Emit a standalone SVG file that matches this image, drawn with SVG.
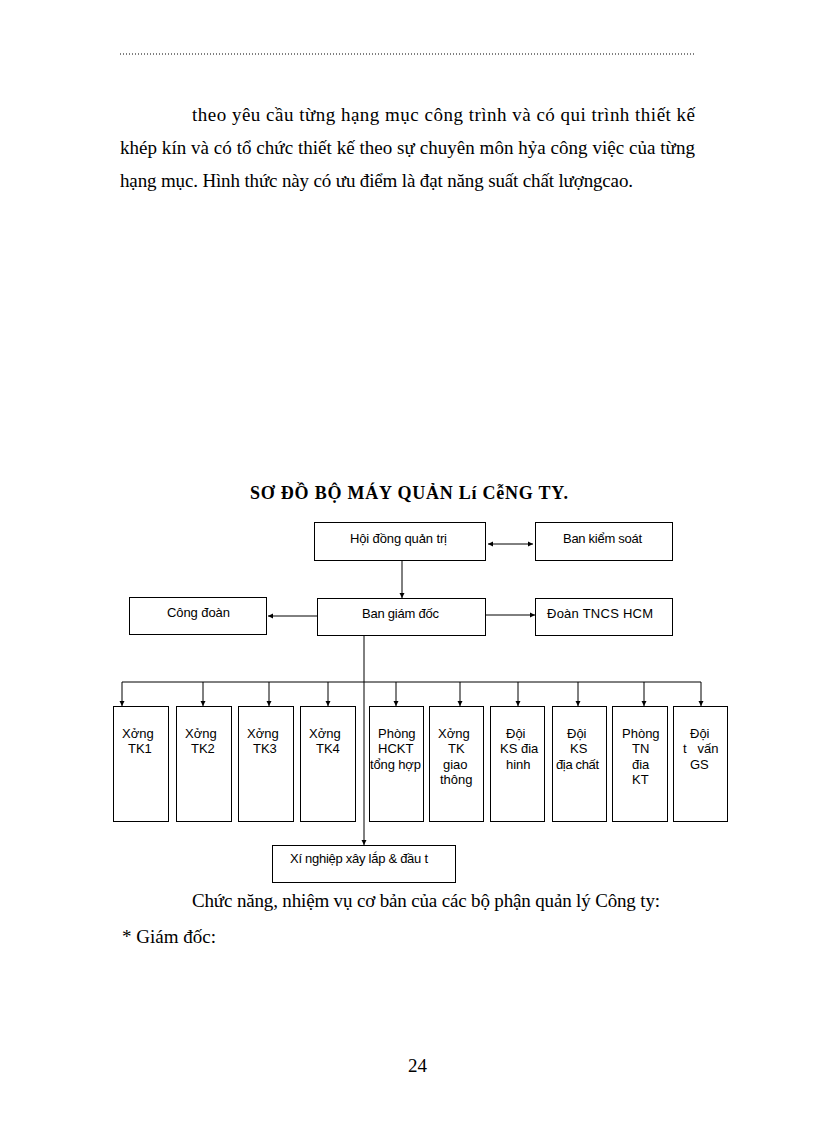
<svg xmlns="http://www.w3.org/2000/svg" width="816" height="1123" viewBox="0 0 816 1123">
<style>
.body{font-family:"Liberation Serif","Times New Roman",serif;font-size:19px;fill:#000}
.title{font-family:"Liberation Serif","Times New Roman",serif;font-size:18px;font-weight:bold;fill:#000}
.lbl{font-family:"Liberation Sans",Arial,sans-serif;font-size:13px;fill:#000}
.box{fill:#fff;stroke:#000;stroke-width:1}
.con{stroke:#000;stroke-width:1;fill:none}
</style>
<defs>
<marker id="ah" markerWidth="6" markerHeight="6" refX="5" refY="3" orient="auto" markerUnits="userSpaceOnUse">
<path d="M0,0.5 L5,3 L0,5.5 Z" fill="#000"/>
</marker>
<marker id="as" markerWidth="6" markerHeight="6" refX="1" refY="3" orient="auto" markerUnits="userSpaceOnUse">
<path d="M6,0.5 L1,3 L6,5.5 Z" fill="#000"/>
</marker>
</defs>
<rect x="0" y="0" width="816" height="1123" fill="#fff"/>
<line x1="120" y1="54" x2="695" y2="54" stroke="#000" stroke-width="1" stroke-dasharray="1 2"/>
<text class="body" x="192" y="121" textLength="503">theo yêu cầu từng hạng mục công trình và có qui trình thiết kế</text>
<text class="body" x="120" y="154" textLength="575">khép kín và có tổ chức thiết kế theo sự chuyên môn hỷa công việc của từng</text>
<text class="body" x="120" y="187" textLength="513">hạng mục. Hình thức này có ưu điểm là đạt năng suất chất lượngcao.</text>
<text class="title" x="250" y="499" textLength="318">SƠ ĐỒ BỘ MÁY QUẢN Lí CễNG TY.</text>
<g id="connectors">
<line class="con" x1="488" y1="544" x2="533" y2="544" marker-start="url(#as)" marker-end="url(#ah)"/>
<line class="con" x1="402" y1="561" x2="402" y2="598" marker-end="url(#ah)"/>
<line class="con" x1="317" y1="616" x2="268" y2="616" marker-end="url(#ah)"/>
<line class="con" x1="485" y1="615" x2="535" y2="615" marker-end="url(#ah)"/>
<line class="con" x1="364" y1="636" x2="364" y2="845" marker-end="url(#ah)"/>
<line class="con" x1="122" y1="682" x2="701" y2="682"/>
<line class="con" x1="122" y1="682" x2="122" y2="706" marker-end="url(#ah)"/>
<line class="con" x1="203" y1="682" x2="203" y2="706" marker-end="url(#ah)"/>
<line class="con" x1="269" y1="682" x2="269" y2="706" marker-end="url(#ah)"/>
<line class="con" x1="328" y1="682" x2="328" y2="706" marker-end="url(#ah)"/>
<line class="con" x1="396" y1="682" x2="396" y2="706" marker-end="url(#ah)"/>
<line class="con" x1="460" y1="682" x2="460" y2="706" marker-end="url(#ah)"/>
<line class="con" x1="518" y1="682" x2="518" y2="706" marker-end="url(#ah)"/>
<line class="con" x1="578" y1="682" x2="578" y2="706" marker-end="url(#ah)"/>
<line class="con" x1="644" y1="682" x2="644" y2="706" marker-end="url(#ah)"/>
<line class="con" x1="701" y1="682" x2="701" y2="706" marker-end="url(#ah)"/>
</g>
<g id="hdqt"><rect class="box" x="314.5" y="522.5" width="171" height="38"/><text class="lbl" x="350" y="543" textLength="97">Hội đồng quản trị</text></g>
<g id="bks"><rect class="box" x="535.5" y="522.5" width="137" height="38"/><text class="lbl" x="563" y="543" textLength="79">Ban kiểm soát</text></g>
<g id="bgd"><rect class="box" x="317.5" y="598.5" width="168" height="37"/><text class="lbl" x="362" y="618" textLength="77">Ban giám đốc</text></g>
<g id="doan"><rect class="box" x="535.5" y="598.5" width="137" height="37"/><text class="lbl" x="547" y="618" textLength="106">Đoàn TNCS HCM</text></g>
<g id="congdoan"><rect class="box" x="129.5" y="597.5" width="137" height="37"/><text class="lbl" x="167" y="617" textLength="63">Công đoàn</text></g>
<g id="x1"><rect class="box" x="113.5" y="706.5" width="55" height="115"/><text class="lbl" x="122" y="738">Xởng</text><text class="lbl" x="128" y="753">TK1</text></g>
<g id="x2"><rect class="box" x="176.5" y="706.5" width="55" height="115"/><text class="lbl" x="185" y="738">Xởng</text><text class="lbl" x="191" y="753">TK2</text></g>
<g id="x3"><rect class="box" x="238.5" y="706.5" width="55" height="115"/><text class="lbl" x="247" y="738">Xởng</text><text class="lbl" x="253" y="753">TK3</text></g>
<g id="x4"><rect class="box" x="300.5" y="706.5" width="55" height="115"/><text class="lbl" x="309" y="738">Xởng</text><text class="lbl" x="316" y="753">TK4</text></g>
<g id="hckt"><rect class="box" x="369.5" y="706.5" width="54" height="115"/><text class="lbl" x="378" y="738">Phòng</text><text class="lbl" x="378" y="753">HCKT</text><text class="lbl" x="370" y="769" textLength="51">tổng hợp</text></g>
<g id="xgt"><rect class="box" x="429.5" y="706.5" width="54" height="115"/><text class="lbl" x="438" y="738">Xởng</text><text class="lbl" x="448" y="753">TK</text><text class="lbl" x="443" y="769">giao</text><text class="lbl" x="440" y="784">thông</text></g>
<g id="ksdh"><rect class="box" x="490.5" y="706.5" width="54" height="115"/><text class="lbl" x="506" y="738">Đội</text><text class="lbl" x="500" y="753">KS đia</text><text class="lbl" x="506" y="769">hinh</text></g>
<g id="ksdc"><rect class="box" x="552.5" y="706.5" width="54" height="115"/><text class="lbl" x="567" y="738">Đội</text><text class="lbl" x="570" y="753">KS</text><text class="lbl" x="556" y="769" textLength="43">địa chất</text></g>
<g id="tn"><rect class="box" x="612.5" y="706.5" width="55" height="115"/><text class="lbl" x="622" y="738">Phòng</text><text class="lbl" x="632" y="753">TN</text><text class="lbl" x="632" y="769">đia</text><text class="lbl" x="632" y="784">KT</text></g>
<g id="tv"><rect class="box" x="673.5" y="706.5" width="54" height="115"/><text class="lbl" x="690" y="738">Đội</text><text class="lbl" x="683" y="753" xml:space="preserve">t   vấn</text><text class="lbl" x="690" y="769">GS</text></g>
<g id="xn"><rect class="box" x="272.5" y="845.5" width="183" height="37"/><text class="lbl" x="290" y="863" textLength="138">Xí nghiệp xây lắp &amp; đầu t</text></g>
<text class="body" x="192" y="907" textLength="468">Chức năng, nhiệm  vụ cơ bản của các bộ phận quản lý Công ty:</text>
<text class="body" x="122" y="943">* Giám đốc:</text>
<text class="body" x="408" y="1072">24</text>
</svg>
